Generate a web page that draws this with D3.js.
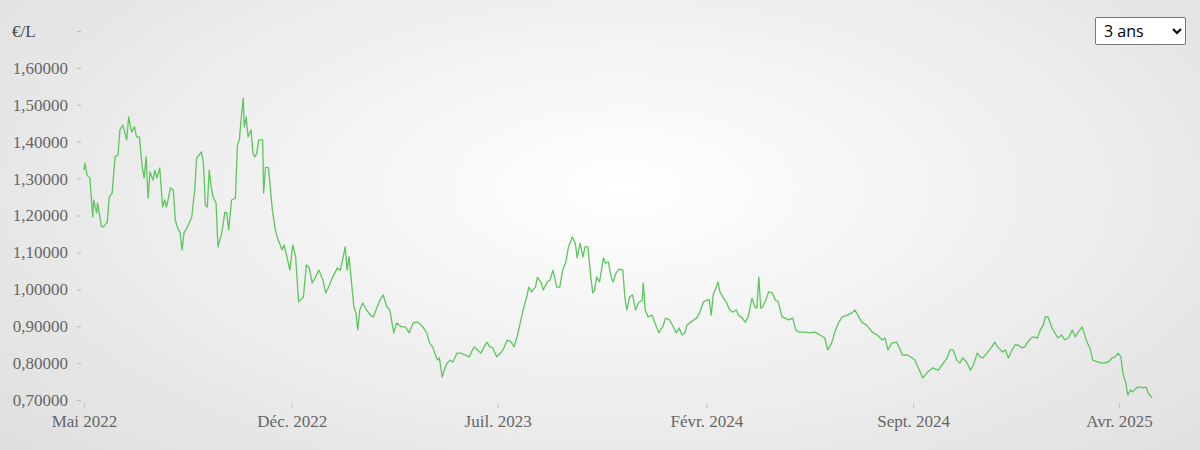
<!DOCTYPE html>
<html>
<head>
<meta charset="utf-8">
<script src="https://cdn.jsdelivr.net/npm/d3@7"></script>
<style>
    body { margin: 0; }
    .wrap {
        position: relative;
        width: 1200px;
        height: 450px;
        background: radial-gradient(ellipse 75% 95% at 52% 42%, #ffffff 0%, #f1f1f1 40%, #dcdcdc 100%);
        overflow: hidden;
    }
    select {
        position: absolute;
        left: 1095px;
        top: 17px;
        width: 91px;
        height: 28px;
        font-family: "Open Sans", sans-serif;
        font-size: 16px;
        background: #fff;
        border: 1px solid #777;
        border-radius: 2px;
        padding: 0 4px;
    }
    svg { position: absolute; left: 0; top: 0; }
    .tick text { font-family: "Liberation Serif", "DejaVu Serif", serif; fill: #666; }
</style>
</head>
<body>
<div class="wrap">
    <svg></svg>
    <select><option>3 ans</option><option>1 an</option><option>5 ans</option></select>
</div>
<script>

const unitLabel = "€/L"

const yTicks = [0.7, 0.8, 0.9, 1.0, 1.1, 1.2, 1.3, 1.4, 1.5, 1.6, 1.7]

const xTickDates = ["2022-05-01", "2022-12-01", "2023-07-01", "2024-02-01", "2024-09-01", "2025-04-01"]
const xTickLabels = ["Mai 2022", "Déc. 2022", "Juil. 2023", "Févr. 2024", "Sept. 2024", "Avr. 2025"]

const dates2022 = [
    "2022-05-01","2022-05-02","2022-05-04","2022-05-07","2022-05-10","2022-05-11","2022-05-14","2022-05-15","2022-05-19","2022-05-21",
    "2022-05-25","2022-05-27","2022-05-30","2022-06-02","2022-06-05","2022-06-07","2022-06-10","2022-06-14","2022-06-16","2022-06-19",
    "2022-06-22","2022-06-24","2022-06-27","2022-06-30","2022-07-02","2022-07-04","2022-07-06","2022-07-08","2022-07-11","2022-07-13",
    "2022-07-15","2022-07-18","2022-07-21","2022-07-23","2022-07-25","2022-07-29","2022-08-01","2022-08-03","2022-08-05","2022-08-08",
    "2022-08-10","2022-08-12","2022-08-15","2022-08-20","2022-08-23","2022-08-25","2022-08-30","2022-09-01","2022-09-03","2022-09-05",
    "2022-09-07","2022-09-09","2022-09-11","2022-09-14","2022-09-16","2022-09-20","2022-09-23","2022-09-25","2022-09-27","2022-09-30",
    "2022-10-04","2022-10-06","2022-10-08","2022-10-10","2022-10-12","2022-10-13","2022-10-15","2022-10-17","2022-10-20","2022-10-22",
    "2022-10-24","2022-10-26","2022-10-28","2022-11-01","2022-11-02","2022-11-04","2022-11-07","2022-11-11","2022-11-14","2022-11-17",
    "2022-11-21","2022-11-23","2022-11-26","2022-11-29","2022-12-02","2022-12-05","2022-12-08","2022-12-13","2022-12-16","2022-12-19",
    "2022-12-22","2022-12-25","2022-12-29"
]
const prices2022 = [
    1.323,1.342,1.310,1.302,1.196,1.242,1.207,1.234,1.169,1.169,
    1.182,1.250,1.261,1.359,1.364,1.432,1.445,1.405,1.467,1.426,
    1.440,1.413,1.413,1.331,1.302,1.359,1.247,1.318,1.296,1.323,
    1.302,1.329,1.223,1.242,1.223,1.275,1.269,1.188,1.169,1.153,
    1.107,1.153,1.166,1.196,1.269,1.356,1.372,1.342,1.228,1.223,
    1.323,1.277,1.250,1.234,1.115,1.153,1.209,1.207,1.161,1.242,
    1.247,1.391,1.405,1.467,1.518,1.440,1.467,1.413,1.432,1.369,
    1.359,1.369,1.405,1.405,1.261,1.331,1.329,1.215,1.161,1.134,
    1.107,1.120,1.088,1.052,1.120,1.088,0.966,0.979,1.066,1.058,
    1.017,1.031,1.052
]

const dates2023 = [
    "2023-01-02","2023-01-05","2023-01-08","2023-01-12","2023-01-17","2023-01-20","2023-01-23","2023-01-25","2023-01-27","2023-01-29",
    "2023-02-01","2023-02-03","2023-02-05","2023-02-07","2023-02-09","2023-02-12","2023-02-16","2023-02-20","2023-02-23","2023-02-27",
    "2023-03-02","2023-03-05","2023-03-09","2023-03-12","2023-03-16","2023-03-19","2023-03-24","2023-03-28","2023-04-01","2023-04-05",
    "2023-04-08","2023-04-11","2023-04-15","2023-04-19","2023-04-22","2023-04-25","2023-04-30","2023-05-02","2023-05-05","2023-05-07",
    "2023-05-10","2023-05-13","2023-05-16","2023-05-20","2023-05-24","2023-05-28","2023-06-02","2023-06-04","2023-06-07","2023-06-10",
    "2023-06-14","2023-06-17","2023-06-20","2023-06-23","2023-06-26","2023-06-30","2023-07-05","2023-07-08","2023-07-11","2023-07-15",
    "2023-07-18","2023-07-21","2023-07-25","2023-07-28","2023-07-31","2023-08-02","2023-08-05","2023-08-09","2023-08-11","2023-08-15",
    "2023-08-17","2023-08-21","2023-08-24","2023-08-27","2023-08-31","2023-09-03","2023-09-06","2023-09-09","2023-09-12","2023-09-16",
    "2023-09-19","2023-09-21","2023-09-24","2023-09-27","2023-09-29","2023-10-02","2023-10-05","2023-10-07","2023-10-09","2023-10-11",
    "2023-10-14","2023-10-18","2023-10-20","2023-10-23","2023-10-26","2023-10-28","2023-10-31","2023-11-03","2023-11-07","2023-11-09",
    "2023-11-11","2023-11-14","2023-11-17","2023-11-20","2023-11-23","2023-11-27","2023-11-28","2023-11-30","2023-12-03","2023-12-07",
    "2023-12-10","2023-12-14","2023-12-18","2023-12-21","2023-12-25","2023-12-29"
]
const prices2023 = [
    1.025,0.990,1.006,1.033,1.058,1.052,1.088,1.115,1.052,1.088,
    1.006,0.952,0.936,0.890,0.944,0.963,0.944,0.930,0.925,0.952,
    0.971,0.985,0.952,0.944,0.882,0.909,0.898,0.898,0.882,0.909,
    0.911,0.909,0.898,0.882,0.854,0.844,0.808,0.814,0.762,0.781,
    0.800,0.808,0.803,0.827,0.827,0.822,0.817,0.830,0.844,0.836,
    0.827,0.844,0.857,0.844,0.841,0.817,0.830,0.844,0.863,0.857,
    0.844,0.871,0.917,0.952,0.979,1.006,0.993,1.006,1.033,1.017,
    0.998,1.020,1.025,1.052,1.006,1.006,1.052,1.071,1.115,1.142,
    1.125,1.085,1.125,1.088,1.115,1.115,1.033,0.990,0.998,1.033,
    1.020,1.085,1.071,1.074,1.033,1.020,1.044,1.055,1.052,0.979,
    0.944,0.979,0.985,0.944,0.963,0.971,1.017,0.944,0.925,0.930,
    0.909,0.882,0.898,0.922,0.917,0.898
]

const dates2024 = [
    "2024-01-01","2024-01-04","2024-01-07","2024-01-10","2024-01-12","2024-01-16","2024-01-19","2024-01-22","2024-01-25","2024-01-29",
    "2024-02-02","2024-02-04","2024-02-06","2024-02-08","2024-02-11","2024-02-13","2024-02-15","2024-02-18","2024-02-22","2024-02-25",
    "2024-02-28","2024-03-03","2024-03-05","2024-03-09","2024-03-12","2024-03-15","2024-03-19","2024-03-22","2024-03-24","2024-03-26",
    "2024-03-28","2024-03-30","2024-04-03","2024-04-05","2024-04-09","2024-04-12","2024-04-15","2024-04-19","2024-04-22","2024-04-26",
    "2024-04-30","2024-05-03","2024-05-06","2024-05-13","2024-05-18","2024-05-23","2024-05-28","2024-06-02","2024-06-05","2024-06-09",
    "2024-06-13","2024-06-16","2024-06-20","2024-06-25","2024-06-30","2024-07-03","2024-07-06","2024-07-10","2024-07-15","2024-07-21",
    "2024-07-26","2024-07-31","2024-08-03","2024-08-06","2024-08-10","2024-08-15","2024-08-21","2024-08-26","2024-08-31","2024-09-03",
    "2024-09-06","2024-09-11","2024-09-16","2024-09-21","2024-09-27","2024-10-02","2024-10-06","2024-10-09","2024-10-12","2024-10-16",
    "2024-10-19","2024-10-22","2024-10-26","2024-10-30","2024-11-02","2024-11-06","2024-11-09","2024-11-12","2024-11-16","2024-11-21",
    "2024-11-24","2024-11-27","2024-12-02","2024-12-05","2024-12-08","2024-12-12","2024-12-15","2024-12-18","2024-12-22","2024-12-25",
    "2024-12-28"
]
const prices2024 = [
    0.882,0.895,0.876,0.882,0.903,0.911,0.917,0.922,0.936,0.966,
    0.971,0.971,0.930,0.985,1.004,1.020,0.993,0.979,0.963,0.944,
    0.938,0.944,0.930,0.922,0.911,0.925,0.976,0.952,0.949,1.033,
    0.949,0.952,0.976,0.993,0.990,0.971,0.966,0.925,0.922,0.917,
    0.922,0.890,0.884,0.884,0.882,0.884,0.876,0.868,0.836,0.854,
    0.890,0.909,0.925,0.930,0.936,0.944,0.930,0.911,0.903,0.884,
    0.876,0.863,0.868,0.836,0.854,0.857,0.822,0.822,0.814,0.808,
    0.789,0.760,0.776,0.787,0.781,0.800,0.814,0.836,0.836,0.808,
    0.800,0.814,0.803,0.781,0.795,0.827,0.817,0.814,0.827,0.844,
    0.857,0.844,0.830,0.836,0.814,0.836,0.849,0.849,0.841,0.844,
    0.857
]

const dates2025 = [
    "2025-01-02","2025-01-07","2025-01-10","2025-01-13","2025-01-15","2025-01-18","2025-01-22","2025-01-25","2025-01-28","2025-02-01",
    "2025-02-04","2025-02-08","2025-02-12","2025-02-15","2025-02-18","2025-02-22","2025-02-23","2025-02-27","2025-03-02","2025-03-05",
    "2025-03-10","2025-03-15","2025-03-21","2025-03-25","2025-03-28","2025-03-31","2025-04-03","2025-04-05","2025-04-08","2025-04-10",
    "2025-04-13","2025-04-15","2025-04-20","2025-04-23","2025-04-26","2025-04-29","2025-05-01","2025-05-05"
]
const prices2025 = [
    0.871,0.868,0.890,0.903,0.925,0.925,0.895,0.882,0.868,0.876,
    0.863,0.868,0.890,0.871,0.884,0.898,0.890,0.857,0.841,0.808,
    0.803,0.800,0.803,0.814,0.817,0.827,0.817,0.773,0.746,0.714,
    0.727,0.722,0.735,0.735,0.733,0.735,0.719,0.705
]

const parseDate = d3.timeParse("%Y-%m-%d")

const data = d3.zip(
    dates2022.concat(dates2023, dates2024, dates2025),
    prices2022.concat(prices2023, prices2024, prices2025)
).map(d => ({ date: parseDate(d[0]), value: d[1] }))

const svg = d3.select("svg")
    .attr("width", 1200)
    .attr("height", 450)

const x = d3.scaleTime()
    .domain([parseDate(xTickDates[0]), parseDate(xTickDates[xTickDates.length - 1])])
    .range([84, 1119])

const y = d3.scaleLinear()
    .domain([0.7, 1.7])
    .range([400, 31])

const commaFormat = d3.format(".5f")

const yAxis = d3.axisLeft(y)
    .tickValues(yTicks)
    .tickSize(4)
    .tickPadding(9)
    .tickFormat(d => commaFormat(d).replace(".", ","))

const yGroup = svg.append("g")
    .attr("transform", "translate(81, 0)")
    .call(yAxis)

yGroup.select(".domain").remove()
yGroup.selectAll(".tick line").attr("stroke", "#bdbdbd")
yGroup.selectAll(".tick text").style("font-size", "17px")

// top tick shows the unit instead of a value
yGroup.selectAll(".tick")
    .filter(d => d === 1.7)
    .select("text")
    .text(unitLabel)
    .attr("x", -69)
    .attr("text-anchor", "start")
    .style("fill", "#4a4a4a")

const xAxis = d3.axisBottom(x)
    .tickValues(xTickDates.map(parseDate))
    .tickSize(5)
    .tickPadding(7)
    .tickFormat((d, i) => xTickLabels[i])

const xGroup = svg.append("g")
    .attr("transform", "translate(0, 403)")
    .call(xAxis)

xGroup.select(".domain").remove()
xGroup.selectAll(".tick line").attr("stroke", "#c4c4c4")
xGroup.selectAll(".tick text").style("font-size", "17px")

const lineGenerator = d3.line()
    .x(d => x(d.date))
    .y(d => y(d.value))

svg.append("path")
    .datum(data)
    .attr("d", lineGenerator)
    .attr("fill", "none")
    .attr("stroke", "#5cc75c")
    .attr("stroke-width", 1.3)
    .attr("stroke-linejoin", "round")

</script>
</body>
</html>
